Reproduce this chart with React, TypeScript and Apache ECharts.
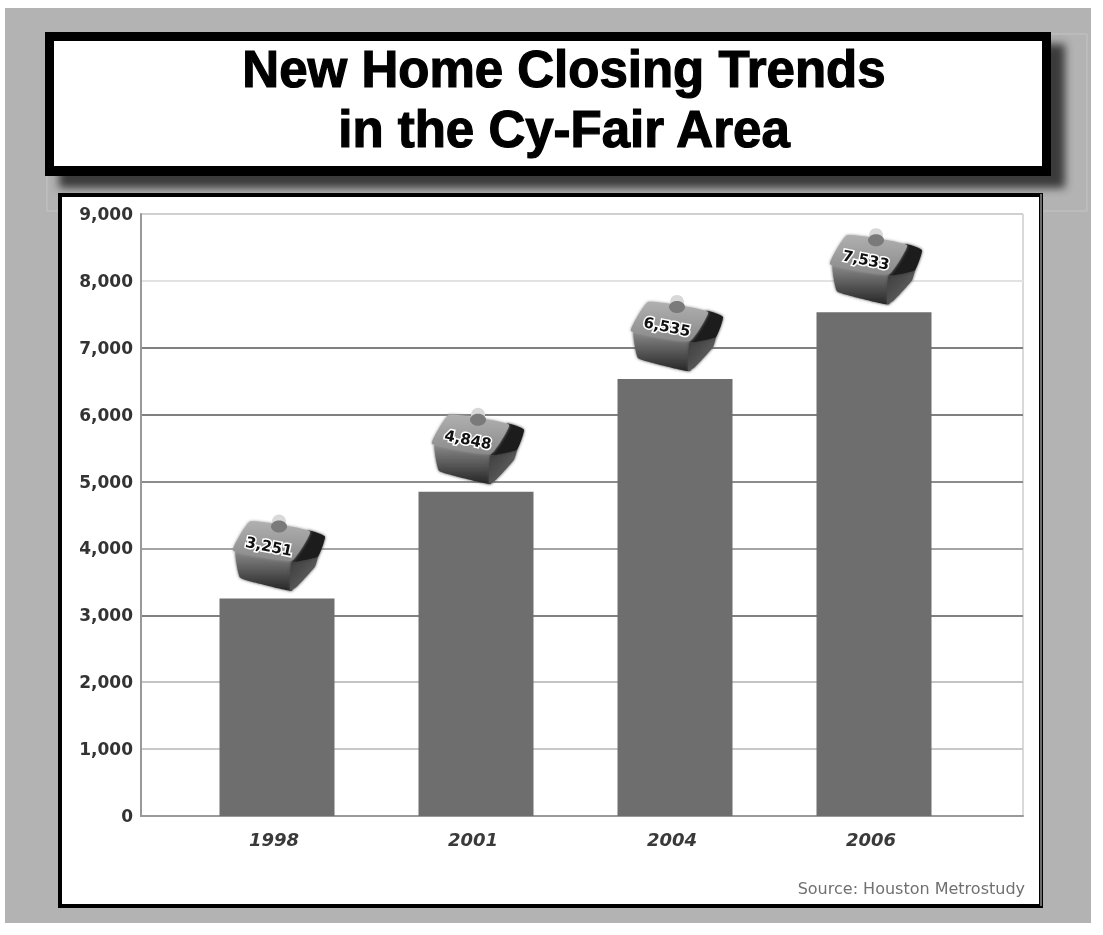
import React, { useEffect, useRef } from "react";
import * as echarts from "echarts";

const titleLines = ["New Home Closing Trends", "in the Cy-Fair Area"];
const years = ["1998", "2001", "2004", "2006"];
const closings = [3251, 4848, 6535, 7533];
const splitColors = ["#b0b0b0", "#c8c8c8", "#c4c4c4", "#808080", "#a4a4a4", "#8c8c8c", "#808080", "#808080", "#e2e2e2", "#d0d0d0"];
const sourceText = "Source: Houston Metrostudy";

const fmt = (v: number) => v.toLocaleString("en-US");

function soft(fill: any, shadow: string) {
  return { fill, shadowBlur: 3, shadowColor: shadow };
}
function poly(points: number[][], fill: any, shadow: string) {
  return { type: "polygon", shape: { points, smooth: 0.12 }, style: soft(fill, shadow) };
}
function grad(x: number, y: number, x2: number, y2: number, a: string, b: string) {
  return new echarts.graphic.LinearGradient(x, y, x2, y2, [
    { offset: 0, color: a },
    { offset: 1, color: b },
  ]);
}

function renderHouse(_: any, api: any) {
  const p = api.coord([api.value(0), api.value(1)]);
  return {
    type: "group",
    x: p[0],
    y: p[1],
    children: [
      poly([[-41, -48], [16, -38], [16, -35], [15, -8], [-10, -13], [-37, -21]], grad(0, 0, 0, 1, "#8c8c8c", "#262626"), "#444444"),
      poly([[15, -38], [41, -44], [38, -32], [20, -12], [13, -8]], grad(0, 0, 1, 1, "#3a3a3a", "#6a6a6a"), "#444444"),
      poly([[31, -68], [48, -62], [41, -42], [15, -37]], "#1c1c1c", "#333333"),
      poly([[-27, -77], [33, -67], [15, -38], [-44, -48]], grad(0, 0, 0, 1, "#b0b0b0", "#8a8a8a"), "#999999"),
      { type: "circle", shape: { cx: 2, cy: -77, r: 7 }, style: { fill: "#d8d8d8" } },
      { type: "ellipse", shape: { cx: 2, cy: -72, rx: 8, ry: 6 }, style: { fill: "#7a7a7a" } },
      {
        type: "text",
        x: -8,
        y: -52,
        rotation: -0.2,
        style: {
          text: fmt(api.value(1)),
          x: 0,
          y: 0,
          align: "center",
          verticalAlign: "middle",
          font: "bold 15px 'DejaVu Sans'",
          fill: "#111111",
          stroke: "#ffffff",
          lineWidth: 3,
        },
      },
    ],
  };
}

export default function App() {
  const ref = useRef<HTMLDivElement>(null);
  useEffect(() => {
    const chart = echarts.init(ref.current!, null, { renderer: "svg" });
    chart.setOption({
      animation: false,
      backgroundColor: "#ffffff",
      title: {
        text: titleLines.join("\n"),
        left: 559,
        top: 34,
        textAlign: "center",
        textStyle: {
          fontFamily: "'Liberation Sans'",
          fontSize: 51,
          fontWeight: "bold",
          lineHeight: 60,
          color: "#000000",
          textBorderColor: "#000000",
          textBorderWidth: 1.2,
        },
      },
      graphic: [
        { type: "rect", z: -20, shape: { x: 5, y: 8, width: 1086, height: 915 }, style: { fill: "#b3b3b3" } },
        { type: "rect", z: -19, shape: { x: 47, y: 34, width: 1040, height: 177 }, style: { fill: "none", stroke: "#c4c4c4", lineWidth: 1 } },
        { type: "rect", z: -18, shape: { x: 45, y: 32, width: 1006, height: 144 }, style: { fill: "#000000", shadowBlur: 9, shadowOffsetX: 14, shadowOffsetY: 12, shadowColor: "#3a3a3a" } },
        { type: "rect", z: -17, shape: { x: 54, y: 41, width: 988, height: 125 }, style: { fill: "#ffffff" } },
        { type: "rect", z: -16, shape: { x: 58, y: 193, width: 985, height: 715 }, style: { fill: "#000000" } },
        { type: "rect", z: -15, shape: { x: 62, y: 197, width: 977, height: 707 }, style: { fill: "#ffffff" } },
        { type: "line", z: -14, shape: { x1: 1041, y1: 194, x2: 1041, y2: 906 }, style: { stroke: "#d8d8d8", lineWidth: 1 } },
        {
          type: "text",
          z: 5,
          style: {
            text: sourceText,
            x: 1025,
            y: 888,
            align: "right",
            verticalAlign: "middle",
            font: "16px 'DejaVu Sans'",
            fill: "#707070",
          },
        },
      ],
      grid: [
        { left: 141, top: 214, width: 882, height: 602, show: true, backgroundColor: "#ffffff", borderColor: "#b4b4b4", borderWidth: 1 },
        { left: 177.5, top: 214, width: 796, height: 602 },
      ],
      xAxis: [
        { gridIndex: 0, type: "value", min: 0, max: 1, axisLabel: { show: false }, axisTick: { show: false }, splitLine: { show: false }, axisLine: { show: true, lineStyle: { color: "#999999", width: 2 } } },
        {
          gridIndex: 1,
          type: "category",
          data: years,
          axisLine: { show: false },
          axisTick: { show: false },
          axisLabel: { margin: 14, padding: [0, 6, 0, 0], color: "#3a3a3a", fontFamily: "'DejaVu Sans'", fontStyle: "italic", fontWeight: "bold", fontSize: 18 },
        },
      ],
      yAxis: [
        {
          gridIndex: 0,
          type: "value",
          min: 0,
          max: 9000,
          interval: 1000,
          axisLine: { show: true, lineStyle: { color: "#999999", width: 2 } },
          axisTick: { show: false },
          axisLabel: { margin: 8, color: "#333333", fontFamily: "'DejaVu Sans'", fontWeight: "bold", fontSize: 17, formatter: (v: number) => fmt(v) },
          splitLine: { show: true, lineStyle: { color: splitColors, width: 2 } },
        },
        { gridIndex: 1, type: "value", min: 0, max: 9000, interval: 1000, show: false, splitLine: { show: false } },
      ],
      series: [
        { type: "bar", xAxisIndex: 1, yAxisIndex: 1, data: closings, barWidth: 115, itemStyle: { color: "#6e6e6e" }, z: 3 },
        {
          type: "custom",
          xAxisIndex: 1,
          yAxisIndex: 1,
          z: 5,
          clip: false,
          encode: { x: 0, y: 1 },
          data: closings.map((v, i) => [i, v]),
          renderItem: renderHouse,
        },
      ],
    });
    return () => chart.dispose();
  }, []);
  return (
    <div
      ref={ref}
      style={{ position: "absolute", left: 0, top: 0, width: 1103, height: 935, filter: "blur(0.6px)" }}
    />
  );
}
